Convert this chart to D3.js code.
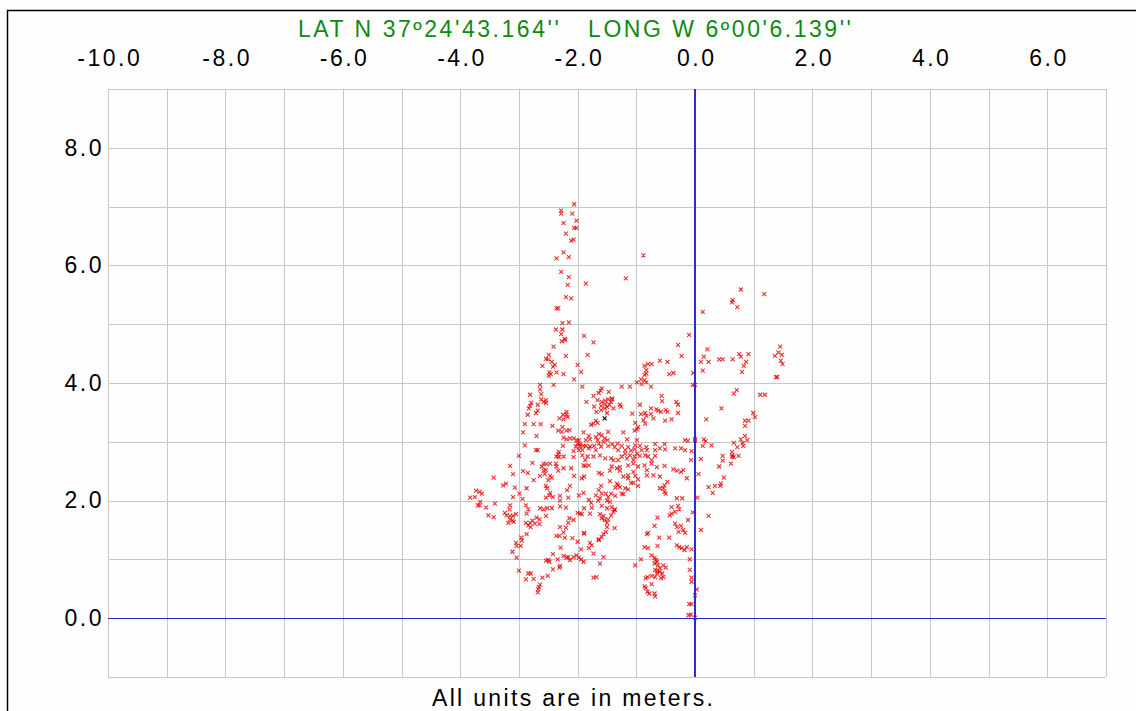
<!DOCTYPE html>
<html>
<head>
<meta charset="utf-8">
<script src="https://cdn.jsdelivr.net/npm/d3@7"></script>
<style>
  body { margin: 0; background: #fff; }
  svg text { font-family: "Liberation Sans", Arial, sans-serif; }
</style>
</head>
<body>
<div id="chart"></div>
<script>
// Axis labels and ranges
const xLabels = [-10, -8, -6, -4, -2, 0, 2, 4, 6];
const yLabels = [0, 2, 4, 6, 8];
const xDomain = [-10, 7];
const yDomain = [-1, 9];
const title = "LAT N 37º24'43.164''   LONG W 6º00'6.139''";
const footer = 'All units are in meters.';

// Position offsets in meters [east, north]
const fixes = [
  [-2.06,7.04],[-2.28,6.93],[-2.28,6.88],[-2.09,6.88],[-2.24,6.72],[-2.06,6.64],[-2.20,6.54],[-2.11,6.42],
  [-2.07,6.44],[-2.24,6.22],[-2.36,6.12],[-2.15,6.14],[-2.28,5.89],[-2.15,5.80],[-2.17,5.67],[-2.20,5.46],
  [-2.11,5.44],[-2.36,5.27],[-2.33,5.27],[-2.26,5.02],[-2.15,5.03],[-2.37,4.91],[-2.26,4.91],[-2.28,4.83],
  [-2.22,4.75],[-2.02,6.76],[-2.02,6.64],[-0.88,6.17],[-1.18,5.78],[-1.86,5.69],[-1.89,4.80],[-0.10,4.82],
  [0.78,5.59],[1.18,5.51],[0.64,5.41],[0.63,5.37],[0.72,5.29],[0.13,5.21],
  [-2.27,4.71],[-2.21,4.73],[-2.41,4.62],[-2.49,4.48],[-2.20,4.46],[-2.54,4.41],[-2.50,4.40],[-2.44,4.36],
  [-2.39,4.31],[-2.42,4.28],[-2.60,4.29],[-2.48,4.18],[-2.46,4.15],[-2.49,4.12],[-2.36,4.18],[-2.24,4.15],
  [-2.06,4.06],[-2.64,3.97],[-2.64,3.89],[-2.41,3.97],[-2.81,3.80],[-2.62,3.81],[-2.62,3.72],[-2.54,3.71],
  [-2.58,3.68],[-2.54,3.66],[-2.79,3.66],[-2.81,3.61],[-2.83,3.57],[-2.68,3.63],[-2.68,3.53],[-2.71,3.49],
  [-2.85,3.46],[-2.25,3.46],[-2.19,3.51],[-2.19,3.46],[-2.31,3.40],[-2.24,3.38],[-2.17,3.42],[-2.90,3.30],
  [-2.75,3.30],[-2.63,3.30],[-2.43,3.27],[-2.26,3.25],[-2.93,3.16],[-2.33,3.19],[-2.27,3.17],[-2.19,3.19],
  [-2.14,3.20],[-2.70,3.10],[-2.24,3.07],[-2.13,3.06],[-2.07,3.06],[-2.19,3.04],[-2.90,2.94],[-2.71,2.86],
  [-2.68,2.86],[-2.25,2.93],[-2.32,2.83],[-2.33,2.79],[-2.32,2.74],[-2.36,2.75],[-2.07,2.84],[-2.07,2.74],
  [-3.00,2.76],[-2.24,2.75],[-2.77,2.64],[-2.58,2.63],[-2.53,2.62],[-2.47,2.63],[-2.61,2.58],[-2.58,2.51],
  [-2.54,2.52],[-2.37,2.63],[-2.36,2.58],[-2.33,2.51],[-2.24,2.55],[-2.11,2.55],[-3.15,2.59],[-2.93,2.50],
  [-2.85,2.47],[-3.10,2.45],[-2.64,2.42],[-2.56,2.45],[-2.47,2.42],[-2.44,2.39],[-3.43,2.39],[-2.06,2.42],
  [-1.73,4.69],[-1.83,4.48],[-0.29,4.65],[-0.23,4.46],[-2.00,4.31],[-1.94,4.19],[-0.86,4.29],[-0.80,4.32],
  [-0.74,4.32],[-0.83,4.22],[-0.83,4.16],[-0.86,4.14],[-0.60,4.38],[-0.47,4.36],[-0.44,4.15],[-0.37,4.17],
  [-0.92,4.06],[-0.86,4.05],[-0.83,4.01],[-0.91,3.98],[-0.99,4.01],[-1.92,3.94],[-1.59,3.91],[-1.61,3.87],
  [-1.25,3.94],[-1.11,3.94],[-0.75,3.94],[-1.47,3.85],[-1.73,3.78],[-1.64,3.83],[-1.85,3.68],[-1.66,3.71],
  [-1.59,3.68],[-1.53,3.70],[-1.48,3.72],[-1.42,3.74],[-1.43,3.68],[-1.41,3.72],[-1.53,3.64],[-1.46,3.63],
  [-1.54,3.57],[-1.50,3.59],[-1.39,3.57],[-1.28,3.63],[-1.26,3.60],[-1.72,3.60],[-1.60,3.61],[-1.68,3.51],
  [-1.60,3.54],[-1.50,3.49],[-0.57,3.78],[-0.56,3.69],[-0.32,3.68],[-0.29,3.63],[-0.94,3.63],[-0.75,3.57],
  [-0.66,3.55],[-0.63,3.53],[-0.50,3.54],[-0.47,3.51],[-0.58,3.51],[-0.29,3.49],[-1.07,3.48],[-0.92,3.47],
  [-0.85,3.49],[-0.83,3.44],[-0.75,3.47],[-0.71,3.40],[-1.69,3.36],[-1.77,3.29],[-1.73,3.31],
  [-1.66,3.32],[-1.02,3.32],[-0.88,3.37],[-0.85,3.31],[-0.97,3.25],[-0.51,3.36],[-0.40,3.38],[-1.03,3.19],
  [-0.99,3.21],[-1.90,3.16],[-1.48,3.17],[-1.22,3.16],[-1.64,3.13],[-1.59,3.11],[-1.81,3.10],[-1.79,3.04],
  [-1.86,3.03],[-1.69,3.08],[-1.66,3.03],[-1.54,3.06],[-1.49,3.03],[-1.56,3.00],[-1.16,3.04],[-0.99,3.03],
  [-0.17,3.03],[-0.12,3.02],[-2.02,3.03],[-1.98,3.03],[-2.00,2.97],[-1.96,2.96],[-2.03,2.92],[-1.96,2.92],
  [-1.90,2.93],[-1.98,2.86],[-1.92,2.86],[-1.86,2.93],[-1.81,2.89],[-1.79,2.92],[-1.72,2.93],[-1.64,2.97],
  [-1.60,2.92],[-1.69,2.86],[-1.48,2.93],[-1.41,2.96],[-1.37,2.91],[-1.32,2.97],[-1.25,2.93],[-1.31,2.86],
  [-1.19,2.86],[-1.14,2.91],[-1.09,2.85],[-1.03,2.87],[-1.02,2.94],[-0.94,2.93],[-0.83,2.91],[-0.91,2.86],
  [-0.82,2.86],[-0.68,2.96],[-0.60,2.89],[-0.68,2.86],[-0.52,2.96],[-0.51,2.87],[-0.34,2.89],[-0.24,2.89],
  [-0.17,2.86],[-1.83,2.75],[-1.92,2.77],[-1.87,2.69],[-1.90,2.60],[-1.73,2.75],[-1.62,2.77],[-1.53,2.72],
  [-1.43,2.72],[-1.39,2.69],[-1.31,2.69],[-1.25,2.75],[-1.19,2.80],[-1.16,2.72],[-1.11,2.77],[-1.03,2.75],
  [-0.99,2.80],[-0.94,2.76],[-1.05,2.69],[-0.85,2.77],[-0.80,2.75],[-0.74,2.69],[-0.68,2.76],[-1.42,2.58],
  [-1.33,2.55],[-1.28,2.57],[-1.45,2.51],[-1.28,2.51],[-1.14,2.60],[-1.05,2.63],[-0.97,2.58],[-1.05,2.49],
  [-0.86,2.60],[-0.74,2.63],[-0.65,2.57],[-0.82,2.52],[-0.52,2.59],[-0.37,2.53],[-0.31,2.51],[-0.24,2.49],
  [-0.20,2.52],[-1.87,2.59],[-1.81,2.60],[-1.89,2.41],[-1.93,2.38],[-1.64,2.47],[-1.59,2.45],[-1.14,2.43],
  [-1.02,2.42],[-0.82,2.43],[-0.71,2.43],[-1.22,2.41],[-1.14,2.38],[-0.60,2.41],[-0.97,2.36],[-0.14,2.38],
  [0.21,4.57],[0.15,4.45],[0.10,4.36],[0.23,4.36],[0.41,4.40],[0.47,4.40],[0.64,4.40],[0.75,4.49],
  [0.78,4.45],[0.91,4.49],[0.87,4.36],[0.83,4.29],[0.80,4.19],[0.13,4.21],[-0.03,4.17],[1.45,4.62],
  [1.42,4.52],[1.36,4.46],[1.48,4.48],[1.46,4.38],[1.49,4.32],[1.38,4.10],[1.40,4.10],[-0.04,3.97],
  [0.00,3.97],[0.71,3.88],[0.66,3.82],[1.11,3.80],[1.19,3.80],[0.45,3.57],[0.19,3.38],[0.99,3.49],
  [1.02,3.42],[0.85,3.36],[0.91,3.36],[0.85,3.27],[0.00,3.04],[0.00,3.02],[0.15,3.04],[0.18,3.01],
  [0.13,2.93],[0.28,2.94],[0.66,2.98],[0.72,2.91],[0.82,2.93],[0.78,3.04],[0.85,3.10],[0.89,3.03],
  [0.81,2.98],[-0.06,2.84],[0.63,2.83],[0.64,2.77],[0.63,2.75],[0.66,2.74],[0.74,2.76],[0.47,2.76],
  [0.47,2.68],[0.10,2.71],[-0.07,2.69],[0.61,2.63],[0.41,2.58],[0.06,2.45],[0.49,2.39],
  [-2.75,2.35],[-2.50,2.35],[-3.27,2.26],[-3.22,2.29],[-3.07,2.22],[-2.87,2.21],[-2.54,2.25],[-2.52,2.21],
  [-2.47,2.13],[-2.13,2.25],[-2.18,2.18],[-3.73,2.17],[-3.67,2.15],[-3.63,2.12],[-2.99,2.12],[-3.83,2.05],
  [-3.75,2.06],[-3.10,2.06],[-2.94,2.03],[-2.54,2.05],[-2.48,2.09],[-2.42,2.06],[-2.30,2.08],[-2.30,2.00],
  [-2.16,2.05],[-3.66,1.98],[-3.70,1.92],[-3.67,1.92],[-3.41,1.95],[-3.15,1.92],[-3.16,1.85],[-2.88,1.92],
  [-2.84,1.85],[-2.87,1.78],[-2.64,1.87],[-2.58,1.85],[-2.52,1.87],[-2.44,1.87],[-3.56,1.88],[-2.30,1.90],
  [-2.20,1.88],[-3.24,1.79],[-3.21,1.75],[-3.52,1.75],[-3.43,1.72],[-3.15,1.74],[-3.10,1.74],[-3.05,1.77],
  [-3.15,1.68],[-3.11,1.66],[-3.09,1.64],[-3.18,1.62],[-2.54,1.74],[-2.70,1.71],[-2.65,1.68],[-2.77,1.66],
  [-2.81,1.62],[-2.73,1.61],[-2.65,1.60],[-2.88,1.62],[-2.84,1.58],[-2.80,1.55],[-2.14,1.70],[-2.07,1.67],
  [-2.16,1.62],[-2.30,1.55],[-2.20,1.54],[-2.24,1.46],[-2.31,1.40],[-2.87,1.43],[-2.96,1.37],[-2.95,1.32],
  [-2.36,1.40],[-2.22,1.37],[-2.09,1.36],[-3.05,1.28],[-3.04,1.23],[-2.97,1.23],[-2.29,1.20],[-3.11,1.13],
  [-2.42,1.09],[-2.24,1.06],[-2.19,1.03],[-2.16,1.04],[-2.07,1.04],[-2.13,0.99],[-3.04,1.03],[-2.54,0.98],
  [-2.50,0.99],[-2.48,0.96],[-2.34,1.00],[-2.30,0.89],[-2.31,0.86],[-2.42,0.83],[-3.00,0.81],[-2.84,0.76],
  [-2.80,0.76],[-2.51,0.72],[-2.88,0.66],[-2.75,0.67],[-2.60,0.69],[-2.64,0.57],[-2.66,0.53],[-2.67,0.49],
  [-2.68,0.44],
  [-1.45,2.33],[-1.33,2.29],[-1.31,2.26],[-1.36,2.22],[-1.28,2.23],[-1.19,2.21],[-1.14,2.19],[-1.09,2.30],
  [-1.05,2.30],[-0.97,2.25],[-1.60,2.25],[-1.64,2.18],[-1.59,2.12],[-1.69,2.09],[-1.62,2.04],[-1.65,2.00],
  [-1.81,2.01],[-1.77,1.96],[-1.90,2.13],[-1.98,2.09],[-1.52,2.12],[-1.43,2.12],[-1.48,2.06],[-1.36,2.08],
  [-1.25,2.12],[-1.22,2.11],[-1.50,2.00],[-1.45,1.98],[-0.52,2.26],[-0.47,2.32],[-0.54,2.21],[-0.52,2.15],
  [-0.50,2.12],[-0.60,2.21],[-0.31,2.04],[-0.22,2.04],[-1.89,1.87],[-1.76,1.88],[-1.59,1.91],[-1.50,1.87],
  [-1.42,1.89],[-1.37,1.85],[-2.00,1.79],[-1.96,1.78],[-1.93,1.77],[-1.79,1.78],[-1.62,1.77],[-1.56,1.74],
  [-1.59,1.70],[-1.54,1.67],[-1.50,1.62],[-1.48,1.68],[-1.50,1.55],[-1.43,1.75],[-1.39,1.81],[-1.37,1.84],
  [-0.40,1.89],[-0.29,1.91],[-0.27,1.85],[-0.34,1.81],[-0.40,1.78],[-0.43,1.75],[-0.64,1.71],[-0.12,1.67],
  [-0.34,1.61],[-0.31,1.55],[-0.24,1.57],[-0.69,1.57],[-0.28,1.47],[-0.20,1.50],[-0.17,1.45],[-1.37,1.53],
  [-1.52,1.47],[-1.56,1.43],[-1.89,1.44],[-1.89,1.45],[-0.80,1.45],[-0.82,1.43],[-1.59,1.38],[-1.64,1.34],
  [-1.64,1.33],[-0.61,1.37],[-0.44,1.37],[-2.00,1.30],[-1.79,1.28],[-1.76,1.24],[-1.81,1.19],[-0.31,1.24],
  [-0.27,1.21],[-0.23,1.19],[-0.18,1.16],[-0.14,1.21],[-1.94,1.17],[-0.86,1.21],[-0.80,1.19],[-0.64,1.23],
  [-1.73,1.10],[-0.74,1.07],[-0.69,1.03],[-0.67,0.99],[-0.65,0.96],[-0.69,0.93],[-0.63,0.90],[-0.60,0.85],
  [-2.02,1.07],[-1.98,1.03],[-1.94,1.00],[-1.90,0.96],[-1.56,1.04],[-0.92,1.00],[-1.62,0.93],[-1.02,0.90],
  [-0.54,0.90],[-0.50,0.86],[-0.68,0.82],[-0.64,0.81],[-0.60,0.79],[-0.56,0.76],[-0.65,0.76],[-0.54,0.70],
  [-0.58,0.68],[-0.68,0.70],[-0.74,0.72],[-0.81,0.70],[-0.84,0.68],[-1.73,0.69],[-1.68,0.70],[-0.74,0.58],
  [-0.86,0.54],[-0.84,0.51],[-0.81,0.45],[-0.78,0.42],[-0.69,0.42],[-0.68,0.37],[-0.10,0.24],[-0.11,0.05],
  [0.23,2.23],[0.34,2.25],[0.43,2.25],[0.44,2.29],[0.30,2.13],[0.04,2.05],[-0.04,1.80],[0.23,1.74],
  [0.10,1.50],[-0.06,1.17],[-0.09,1.00],[-0.09,0.82],[-0.06,0.69],[-0.06,0.62],[0.03,0.49],[0.00,0.39],
  [-0.06,0.24],[-0.07,0.06],[0.00,0.01]
];
// one fix drawn in black in the original
const marked = [[-1.54, 3.40]];

const width = 1136, height = 711;
const plot = { left: 108, right: 1106, top: 89, bottom: 677 };
const fontSize = '23px';
const spacing = 2.5;

const svg = d3.select('#chart').append('svg')
  .attr('width', width)
  .attr('height', height);

svg.append('rect')
  .attr('width', width).attr('height', height)
  .attr('fill', '#fefefe');

// frame of the window, right and bottom edges fall outside the picture
svg.append('rect')
  .attr('x', 7.5).attr('y', 10.5)
  .attr('width', width + 20).attr('height', height + 20)
  .attr('fill', 'none')
  .attr('stroke', '#000')
  .attr('stroke-width', 1.5);

const x = d3.scaleLinear().domain(xDomain).range([plot.left, plot.right]);
const y = d3.scaleLinear().domain(yDomain).range([plot.bottom, plot.top]);

// grid, one line per meter
const gridX = d3.range(xDomain[0], xDomain[1] + 1);
const gridY = d3.range(yDomain[0], yDomain[1] + 1);

svg.append('g')
  .selectAll('line')
  .data(gridX)
  .join('line')
  .attr('x1', d => Math.round(x(d)) + 0.5)
  .attr('x2', d => Math.round(x(d)) + 0.5)
  .attr('y1', plot.top)
  .attr('y2', plot.bottom)
  .attr('stroke', '#c8c8c8');

svg.append('g')
  .selectAll('line')
  .data(gridY)
  .join('line')
  .attr('y1', d => Math.round(y(d)) + 0.5)
  .attr('y2', d => Math.round(y(d)) + 0.5)
  .attr('x1', plot.left)
  .attr('x2', plot.right)
  .attr('stroke', '#c8c8c8');

// tick labels
const fmt = d => d.toFixed(1);
const topAxis = svg.append('g')
  .attr('transform', 'translate(0,' + plot.top + ')')
  .call(d3.axisTop(x).tickValues(xLabels).tickSize(0).tickPadding(23).tickFormat(fmt));
const leftAxis = svg.append('g')
  .attr('transform', 'translate(' + plot.left + ',0)')
  .call(d3.axisLeft(y).tickValues(yLabels).tickSize(0).tickPadding(4).tickFormat(fmt));

[topAxis, leftAxis].forEach(function (g) {
  g.select('.domain').remove();
  g.selectAll('line').remove();
  g.selectAll('text')
    .attr('fill', '#000')
    .style('font-family', '"Liberation Sans", Arial, sans-serif')
    .style('font-size', fontSize)
    .style('letter-spacing', spacing + 'px');
});
topAxis.selectAll('text').attr('dx', spacing / 2);

// fixes as little crosses
const cross = 'M-2,-2L2,2M-2,2L2,-2';
svg.append('g')
  .selectAll('path')
  .data(fixes)
  .join('path')
  .attr('transform', d => 'translate(' + x(d[0]) + ',' + y(d[1]) + ')')
  .attr('d', cross)
  .attr('fill', 'none')
  .attr('stroke', '#e00000')
  .attr('stroke-opacity', 0.8)
  .attr('stroke-width', 1.1);

svg.append('g')
  .selectAll('path')
  .data(marked)
  .join('path')
  .attr('transform', d => 'translate(' + x(d[0]) + ',' + y(d[1]) + ')')
  .attr('d', cross)
  .attr('fill', 'none')
  .attr('stroke', '#000')
  .attr('stroke-width', 1.1);

// zero lines
svg.append('line')
  .attr('x1', plot.left).attr('x2', plot.right)
  .attr('y1', Math.round(y(0)) + 0.5).attr('y2', Math.round(y(0)) + 0.5)
  .style('stroke', '#2a2ad6')
  .style('stroke-width', 1.2);
svg.append('line')
  .attr('x1', Math.round(x(0))).attr('x2', Math.round(x(0)))
  .attr('y1', plot.top).attr('y2', plot.bottom)
  .style('stroke', '#2a2ad6')
  .style('stroke-width', 2);

// title and footer
svg.append('text')
  .attr('x', 574.5)
  .attr('y', 37)
  .attr('text-anchor', 'middle')
  .attr('fill', '#118a11')
  .attr('textLength', 553)
  .attr('lengthAdjust', 'spacing')
  .style('font-size', fontSize)
  .style('white-space', 'pre')
  .text(title);

svg.append('text')
  .attr('x', 572.5)
  .attr('y', 706)
  .attr('text-anchor', 'middle')
  .attr('fill', '#000')
  .attr('textLength', 281)
  .attr('lengthAdjust', 'spacing')
  .style('font-size', fontSize)
  .text(footer);
</script>
</body>
</html>
